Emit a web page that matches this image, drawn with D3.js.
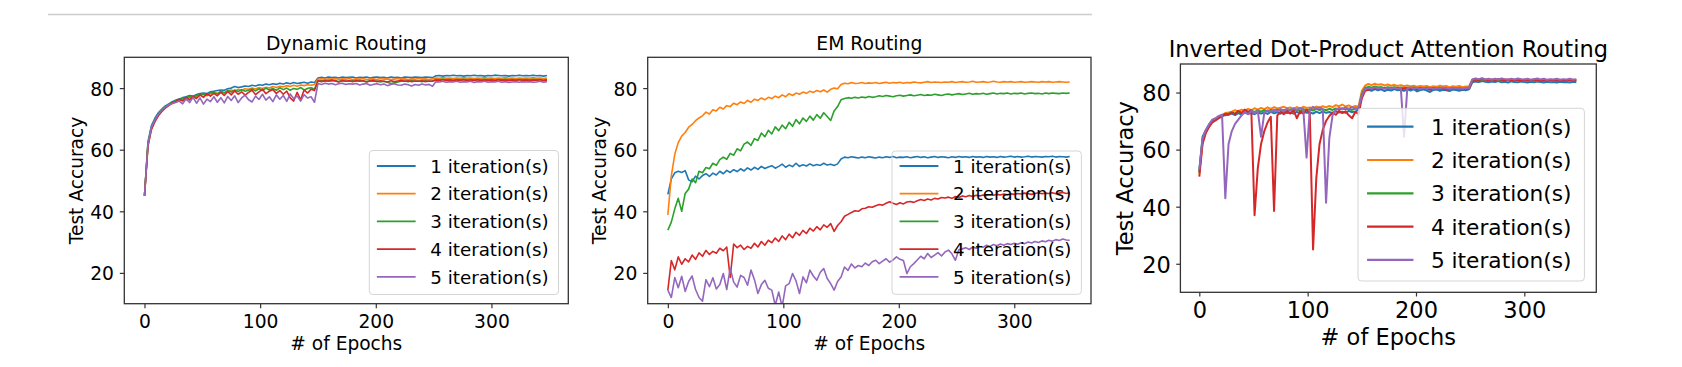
<!DOCTYPE html>
<meta charset="utf-8">
<script src="https://cdn.jsdelivr.net/npm/d3@7"></script>
<style>
  body { margin: 0; background: #fff; }
  text { font-family: "DejaVu Sans", sans-serif; fill: #000; }
</style>
<div id="chart"></div>
<script>
// epochs are read every 3rd epoch (0, 3, ... 348)
var epochs = d3.range(0, 349, 3);
var xTicks = [0, 100, 200, 300];
var yTicks = [20, 40, 60, 80];
var labels = ["1 iteration(s)", "2 iteration(s)", "3 iteration(s)", "4 iteration(s)", "5 iteration(s)"];
var colors = ["#1f77b4", "#ff7f0e", "#2ca02c", "#d62728", "#9467bd"];

// ---- Dynamic Routing
var dyn1 = [45, 62.5, 67.8, 70.2, 72.0, 73.2, 74.2, 74.9, 75.6, 76.1,
  76.5, 76.9, 77.2, 77.6, 77.4, 77.9, 78.2, 78.4, 78.2, 78.8,
  79.0, 79.2, 79.4, 79.3, 79.8, 80.0, 80.5, 80.2, 80.4, 80.7,
  80.5, 80.9, 80.7, 81.1, 80.9, 81.3, 81.1, 81.4, 81.2, 81.6,
  81.3, 81.7, 81.4, 81.8, 81.5, 81.7, 81.9, 81.6, 82.0, 81.8,
  83.3, 83.5, 83.3, 83.6, 83.4, 83.5, 83.3, 83.6, 83.4, 83.5,
  83.6, 83.3, 83.5, 83.4, 83.6, 83.3, 83.5, 83.6, 83.4, 83.5,
  83.3, 83.6, 83.4, 83.5, 83.3, 83.6, 83.5, 83.4, 83.6, 83.5,
  83.4, 83.6, 83.5, 83.4, 84.0, 84.1, 83.9, 84.1, 84.0, 84.2,
  84.0, 84.1, 83.9, 84.1, 84.0, 84.2, 84.0, 84.1, 83.9, 84.1,
  84.0, 84.2, 84.1, 84.0, 84.1, 83.9, 84.1, 84.0, 84.2, 84.0,
  84.1, 84.0, 84.2, 84.0, 84.1, 83.9, 84.1];
var dyn2 = [45, 61.5, 67.0, 69.5, 71.2, 72.6, 73.6, 74.3, 75.0, 75.6,
  76.0, 76.4, 76.2, 77.0, 76.8, 77.3, 77.6, 77.9, 77.5, 78.2,
  78.5, 78.3, 78.9, 78.6, 79.1, 79.4, 79.0, 79.6, 79.3, 79.8,
  79.6, 80.0, 79.7, 80.2, 79.9, 80.3, 80.0, 80.5, 80.2, 80.6,
  80.4, 80.8, 80.5, 80.9, 80.6, 81.0, 80.8, 81.1, 80.9, 81.2,
  82.9, 83.1, 82.8, 83.0, 82.9, 83.1, 82.8, 83.0, 82.9, 83.1,
  82.8, 83.0, 82.9, 83.1, 82.8, 82.9, 83.0, 82.8, 83.1, 82.9,
  83.0, 82.8, 82.9, 83.1, 82.9, 83.0, 82.8, 83.0, 82.9, 83.1,
  82.9, 83.0, 82.8, 83.0, 83.3, 83.2, 83.4, 83.2, 83.3, 83.1,
  83.3, 83.2, 83.4, 83.2, 83.3, 83.1, 83.3, 83.2, 83.4, 83.2,
  83.3, 83.1, 83.3, 83.2, 83.4, 83.2, 83.3, 83.1, 83.3, 83.2,
  83.3, 83.2, 83.4, 83.2, 83.3, 83.1, 83.3];
var dyn3 = [45, 62.0, 67.3, 69.8, 71.6, 72.9, 73.9, 74.6, 75.4, 75.9,
  76.2, 76.6, 76.9, 77.3, 77.0, 77.6, 77.9, 78.1, 77.7, 78.4,
  78.6, 78.1, 78.9, 78.4, 79.2, 78.7, 79.4, 78.9, 79.5, 79.0,
  79.3, 79.7, 79.1, 79.8, 79.2, 80.0, 79.4, 79.9, 79.3, 80.1,
  79.5, 80.0, 79.3, 79.9, 79.6, 80.2, 79.4, 79.9, 80.1, 79.7,
  82.3, 82.5, 82.2, 82.4, 82.3, 82.5, 82.1, 82.4, 82.3, 82.2,
  82.4, 82.2, 82.5, 82.3, 82.1, 82.4, 82.2, 82.3, 82.0, 82.2,
  81.9, 81.5, 81.7, 82.0, 82.2, 82.3, 82.1, 82.4, 82.2, 82.3,
  82.1, 82.4, 82.2, 82.3, 82.8, 82.7, 82.9, 82.7, 82.8, 82.6,
  82.8, 82.7, 82.9, 82.7, 82.8, 82.6, 82.8, 82.7, 82.9, 82.7,
  82.8, 82.6, 82.8, 82.7, 82.9, 82.7, 82.8, 82.6, 82.8, 82.7,
  82.8, 82.7, 82.9, 82.7, 82.8, 82.6, 82.8];
var dyn4 = [45, 61.0, 66.5, 69.0, 71.0, 72.4, 73.5, 74.4, 75.2, 75.5,
  76.4, 75.8, 77.0, 76.2, 77.3, 76.6, 77.8, 77.0, 78.2, 77.4,
  78.3, 77.5, 78.6, 77.6, 78.9, 77.8, 79.1, 78.0, 78.8, 77.7,
  78.6, 79.3, 77.9, 78.8, 79.6, 78.2, 79.0, 79.5, 78.3, 79.2,
  78.0, 79.0, 76.8, 75.8, 78.6, 76.2, 79.4, 78.4, 79.6, 79.2,
  82.4, 82.1, 82.5, 82.2, 82.6, 82.3, 82.0, 82.5, 82.2, 82.4,
  82.1, 82.5, 82.2, 82.4, 82.0, 82.3, 82.5, 82.1, 82.4, 82.2,
  82.0, 82.4, 82.1, 82.3, 82.5, 82.2, 82.4, 82.1, 82.3, 82.2,
  82.4, 82.1, 82.3, 82.2, 82.6, 82.5, 82.7, 82.5, 82.6, 82.4,
  82.6, 82.5, 82.7, 82.4, 82.6, 82.5, 82.7, 82.4, 82.6, 82.5,
  82.6, 82.4, 82.7, 82.5, 82.6, 82.4, 82.6, 82.5, 82.7, 82.5,
  82.6, 82.4, 82.6, 82.5, 82.7, 82.4, 82.6];
var dyn5 = [45, 61.5, 67.2, 69.6, 71.5, 72.8, 73.8, 74.6, 75.0, 75.3,
  75.8, 74.9, 76.5, 75.3, 77.0, 75.1, 76.8, 74.8, 76.4, 75.6,
  77.2, 75.4, 76.9, 75.2, 77.3, 76.0, 77.5, 75.3, 76.8, 77.7,
  76.2, 75.5, 77.4, 76.3, 78.0, 76.1, 77.2, 75.6, 77.8, 76.4,
  77.6, 75.7, 78.1, 76.6, 77.4, 75.8, 77.9, 76.8, 77.2, 75.4,
  81.5, 81.2, 81.6, 81.3, 81.5, 81.1, 81.4, 81.6, 81.2, 81.4,
  81.3, 81.5, 81.0, 81.3, 81.5, 80.9, 81.2, 81.4, 81.1, 81.3,
  80.8, 81.2, 81.4, 81.0, 80.9, 81.3, 81.1, 80.7, 81.2, 80.9,
  81.3, 81.0, 81.2, 80.6, 82.1, 82.0, 82.2, 81.9, 82.1, 82.0,
  82.2, 81.9, 82.1, 82.0, 82.2, 81.8, 82.1, 82.0, 82.2, 81.9,
  82.1, 82.0, 82.2, 81.9, 82.1, 81.8, 82.0, 82.1, 81.9, 82.1,
  82.0, 82.1, 81.9, 82.0, 82.2, 81.9, 82.1];

// ---- EM Routing
var em1 = [45.5, 50.5, 52.5, 53.0, 52.6, 53.2, 50.2, 49.6, 51.4, 50.5,
  51.6, 52.2, 51.3, 52.4, 51.8, 53.0, 52.2, 53.3, 52.6, 53.5,
  52.9, 53.8, 53.1, 54.1, 53.4, 54.3, 53.6, 54.6, 53.9, 54.4,
  54.8, 54.0, 54.6, 55.3, 54.3, 55.0, 54.5, 55.6, 54.6, 55.1,
  54.7, 55.4, 54.8, 55.2, 54.9, 55.6, 55.0, 55.3, 54.9, 55.4,
  57.0, 57.6, 57.4, 57.7, 57.5, 57.3, 57.6, 57.4, 57.7, 57.5,
  57.3, 57.6, 57.4, 57.7, 57.5, 57.8, 57.4, 57.6, 57.5, 57.7,
  57.4, 57.6, 57.8, 57.5, 57.7, 57.4, 57.6, 57.8, 57.5, 57.7,
  57.6, 57.4, 57.7, 57.5, 57.8, 57.6, 57.7, 57.5, 57.8, 57.6,
  57.7, 57.5, 57.8, 57.6, 57.7, 57.5, 57.8, 57.6, 57.7, 57.9,
  57.6, 57.8, 57.6, 57.7, 57.9, 57.6, 57.8, 57.7, 57.6, 57.8,
  57.7, 57.9, 57.6, 57.8, 57.7, 57.6, 57.8];
var em2 = [38.8, 51.5, 58.5, 62.3, 64.4, 65.6, 67.3, 68.2, 69.4, 70.3,
  71.0, 72.2, 71.6, 73.0, 72.6, 73.8, 73.2, 74.3, 74.0, 75.1,
  74.6, 75.5, 75.0, 76.0, 75.4, 76.4, 76.0, 76.8, 76.2, 77.0,
  76.6, 77.4, 76.9, 77.8, 77.2, 78.2, 77.6, 78.4, 78.0, 78.7,
  78.3, 79.0, 78.6, 79.2, 78.8, 79.4, 78.7, 79.6, 80.0, 79.8,
  81.2, 81.6, 81.4, 81.8, 81.5, 81.6, 81.8, 81.5, 81.7, 81.6,
  81.8, 81.5, 81.7, 81.9, 81.6, 81.8, 81.7, 81.9, 81.6, 81.8,
  81.7, 82.0, 81.8, 81.7, 81.9, 82.1, 81.8, 82.0, 81.9, 81.8,
  82.0, 81.9, 82.1, 81.8, 82.0, 82.1, 81.9, 82.0, 82.2, 81.9,
  82.0, 82.1, 81.9, 82.0, 82.2, 82.0, 81.9, 82.1, 82.0, 82.1,
  81.9, 82.0, 82.1, 81.9, 82.0, 82.1, 82.0, 81.9, 82.1, 82.0,
  82.1, 81.9, 82.0, 82.1, 82.0, 81.9, 82.0];
var em3 = [33.9, 36.5, 40.8, 44.2, 40.0, 45.8, 47.2, 50.5, 49.3, 53.0,
  52.5, 54.2, 53.8, 55.6, 54.9, 56.8, 57.6, 56.9, 58.8, 58.2,
  60.3, 59.6, 61.8, 62.5, 61.4, 63.6, 63.0, 65.4, 64.2, 66.3,
  65.1, 67.4, 66.2, 68.0, 66.8, 68.9, 67.6, 69.8, 68.4, 70.3,
  69.2, 70.9, 69.6, 71.4, 70.2, 72.0, 70.8, 69.5, 72.6, 74.0,
  76.2, 76.6, 76.9, 76.7, 77.0, 76.8, 77.1, 76.9, 77.3, 77.0,
  77.2, 77.5, 77.3, 77.6, 77.4, 77.2, 77.5, 77.7, 77.4, 77.6,
  77.8, 77.5, 77.7, 77.9, 77.6, 77.8, 77.7, 78.0, 77.8, 77.6,
  77.9, 78.1, 77.8, 78.0, 78.2, 77.9, 78.1, 78.3, 78.0, 78.2,
  78.1, 78.3, 78.0, 78.2, 78.4, 78.1, 78.3, 78.2, 78.4, 78.1,
  78.3, 78.2, 78.4, 78.1, 78.3, 78.4, 78.2, 78.3, 78.1, 78.4,
  78.2, 78.4, 78.3, 78.2, 78.4, 78.3, 78.4];
var em4 = [14.4, 24.0, 21.0, 25.2, 22.8, 24.6, 23.6, 25.8, 24.4, 26.5,
  25.4, 27.3, 26.0, 27.0, 26.4, 28.0, 27.2, 28.4, 18.5, 29.4,
  28.2, 29.0, 27.6, 28.6, 28.0, 29.6, 28.4, 30.2, 29.0, 30.6,
  29.8, 31.3, 30.2, 32.0, 30.8, 32.6, 31.4, 33.2, 32.2, 33.8,
  32.8, 34.5, 33.6, 35.0, 34.0, 35.6, 34.8, 36.0, 33.5, 35.4,
  36.6, 38.4, 39.0, 39.6, 40.2, 40.0, 40.8, 41.0, 41.5, 41.3,
  41.8, 42.2, 42.0, 42.6, 43.1, 42.6, 42.2, 42.8, 42.4, 43.0,
  43.2, 42.9, 43.4, 43.8, 43.5, 44.0, 43.7, 44.2, 44.0, 44.5,
  44.3, 44.6, 44.2, 44.8, 44.5, 45.0, 44.7, 45.1, 44.8, 45.2,
  45.0, 45.3, 45.1, 45.4, 45.2, 45.5, 45.3, 45.6, 45.4, 45.7,
  45.5, 45.8, 45.6, 45.9, 45.7, 45.5, 45.8, 46.0, 45.7, 45.9,
  45.8, 46.0, 45.7, 45.9, 46.1, 45.8, 46.0];
var em5 = [14.4, 12.0, 18.5, 15.2, 18.9, 14.0, 17.2, 19.0, 14.6, 12.0,
  10.8, 17.8, 15.5, 18.4, 14.8, 16.2, 19.8, 14.6, 21.5, 17.0,
  15.4, 19.2, 18.5, 16.0, 20.9, 17.8, 13.3, 16.2, 17.6, 15.0,
  14.4, 9.5, 13.8, 9.0, 15.8, 16.5, 19.8, 17.4, 13.3, 18.7,
  16.8, 20.9, 19.0, 17.6, 20.2, 21.4, 18.2, 16.5, 14.4, 17.2,
  18.7, 21.9, 20.8, 22.9, 21.6, 22.4, 22.0, 23.2, 22.4, 23.6,
  24.1, 23.0, 23.8, 24.6, 23.5, 24.2, 25.2, 24.4, 24.0, 19.8,
  22.0, 23.0, 24.2, 25.4, 24.6, 26.3, 25.0, 25.8, 26.6, 25.5,
  26.8, 27.4, 26.2, 24.1, 27.5, 27.8, 28.2, 27.6, 28.4, 28.0,
  28.6, 28.3, 29.0, 28.6, 29.2, 28.8, 29.4, 29.0, 29.5, 29.2,
  29.6, 29.3, 29.8, 29.5, 30.0, 29.7, 30.2, 29.9, 30.4, 30.1,
  30.6, 30.3, 30.8, 30.5, 31.0, 30.7, 30.6];

// ---- Inverted Dot-Product Attention Routing
var inv1 = [52.5, 64.5, 66.8, 68.8, 70.2, 70.8, 71.4, 71.9, 72.0, 72.3,
  72.6, 72.1, 72.8, 72.3, 73.0, 72.5, 72.9, 72.4, 73.1, 72.6,
  73.0, 72.5, 73.2, 72.7, 73.1, 72.6, 73.3, 72.8, 73.0, 72.6,
  73.2, 72.7, 73.4, 72.9, 73.1, 72.6, 73.3, 72.8, 73.4, 72.9,
  73.2, 72.8, 73.5, 73.0, 73.3, 72.9, 73.6, 73.1, 73.4, 73.8,
  78.5, 80.8, 81.0, 80.6, 81.2, 80.8, 81.1, 80.5, 81.0, 80.7,
  81.2, 80.8, 81.0, 80.6, 81.1, 80.7, 81.2, 80.4, 80.9, 81.1,
  80.7, 80.2, 80.9, 81.1, 80.6, 81.0, 80.8, 80.5, 81.1, 80.9,
  80.6, 81.0, 80.8, 81.1, 83.6, 83.9, 83.7, 84.0, 83.8, 83.6,
  83.9, 83.7, 84.0, 83.6, 83.8, 83.5, 83.9, 83.7, 83.6, 83.9,
  83.7, 83.5, 83.8, 83.6, 83.9, 83.7, 83.5, 83.8, 83.6, 83.7,
  83.5, 83.8, 83.6, 83.7, 83.5, 83.8, 83.6];
var inv2 = [51.8, 62.5, 66.0, 68.0, 69.8, 70.6, 71.5, 72.2, 72.8, 73.0,
  73.3, 73.8, 73.4, 74.0, 73.6, 74.3, 73.8, 74.5, 74.0, 74.6,
  74.2, 74.8, 74.3, 74.9, 74.4, 74.7, 75.0, 74.5, 74.8, 74.3,
  74.9, 74.4, 75.0, 74.6, 74.8, 74.3, 75.1, 74.7, 75.2, 74.8,
  75.3, 74.9, 75.6, 75.2, 75.8, 75.1, 75.5, 74.9, 75.3, 75.0,
  80.5, 82.4, 83.0, 82.6, 83.1, 82.7, 82.9, 82.5, 82.8, 82.4,
  82.7, 82.3, 82.6, 82.2, 82.5, 82.1, 82.4, 82.0, 82.3, 82.1,
  82.3, 81.9, 82.2, 82.0, 82.4, 82.1, 82.3, 81.8, 82.2, 82.0,
  82.3, 81.9, 82.1, 82.2, 84.5, 84.8, 84.6, 84.9, 84.5, 84.7,
  84.4, 84.7, 84.5, 84.8, 84.6, 84.4, 84.7, 84.5, 84.3, 84.6,
  84.4, 84.6, 84.3, 84.5, 84.2, 84.5, 84.3, 84.4, 84.2, 84.5,
  84.3, 84.5, 84.2, 84.4, 84.3, 84.5, 84.4];
var inv3 = [52.0, 63.5, 66.4, 68.4, 70.0, 70.7, 71.3, 72.0, 72.4, 72.6,
  73.0, 72.6, 73.3, 72.9, 73.5, 73.0, 73.6, 73.2, 73.7, 73.3,
  73.8, 73.4, 73.9, 73.5, 74.0, 73.6, 73.9, 73.5, 74.1, 73.7,
  74.0, 73.6, 74.2, 73.8, 74.1, 73.7, 74.3, 73.9, 74.2, 73.8,
  74.3, 73.9, 74.4, 74.0, 74.5, 74.1, 74.3, 73.9, 74.4, 74.2,
  79.5, 81.6, 82.0, 81.7, 82.1, 81.8, 81.9, 81.5, 81.9, 81.6,
  81.9, 81.5, 81.8, 81.4, 81.7, 81.5, 81.8, 81.4, 81.6, 81.5,
  81.7, 81.3, 81.6, 81.4, 81.7, 81.3, 81.6, 81.2, 81.5, 81.4,
  81.6, 81.3, 81.5, 81.6, 84.2, 84.5, 84.3, 84.6, 84.2, 84.4,
  84.2, 84.5, 84.3, 84.5, 84.2, 84.4, 84.1, 84.3, 84.2, 84.4,
  84.2, 84.3, 84.1, 84.4, 84.2, 84.3, 84.0, 84.2, 84.1, 84.3,
  84.1, 84.3, 84.2, 84.0, 84.3, 84.1, 84.2];
var inv4 = [50.5, 62.0, 65.8, 68.0, 69.5, 70.2, 71.0, 71.6, 72.6, 72.2,
  73.0, 72.4, 73.6, 72.8, 74.0, 73.2, 73.8, 37.0, 53.5, 62.0,
  66.5, 69.5, 71.5, 38.5, 72.0, 73.2, 72.4, 73.5, 72.6, 73.8,
  71.0, 73.4, 72.6, 73.9, 72.5, 25.0, 50.0, 62.0, 67.0, 70.0,
  71.8, 73.0, 72.2, 73.6, 72.8, 73.4, 72.0, 71.0, 73.2, 72.5,
  78.0, 80.6, 81.0, 81.4, 81.2, 81.6, 81.3, 81.7, 81.2, 81.5,
  81.3, 81.6, 81.0, 81.4, 81.7, 81.2, 81.5, 81.1, 81.6, 81.3,
  81.5, 81.0, 81.4, 81.6, 81.2, 81.5, 81.0, 81.3, 81.6, 81.2,
  81.4, 81.1, 81.5, 81.3, 84.3, 84.6, 84.4, 84.7, 84.5, 84.3,
  84.6, 84.4, 84.7, 84.5, 84.3, 84.6, 84.4, 84.2, 84.5, 84.3,
  84.5, 84.2, 84.4, 84.6, 84.3, 84.1, 84.4, 84.2, 84.5, 84.3,
  84.2, 84.4, 84.1, 84.3, 84.5, 84.2, 84.3];
var inv5 = [53.0, 63.8, 66.8, 68.8, 70.5, 71.0, 71.8, 72.2, 43.0, 62.0,
  66.5, 69.0, 70.5, 72.0, 73.2, 72.4, 73.5, 72.8, 73.6, 64.5,
  73.0, 73.8, 73.2, 74.0, 73.4, 74.2, 73.5, 74.3, 73.7, 74.5,
  73.9, 74.6, 74.0, 57.2, 74.2, 75.0, 74.3, 74.8, 74.1, 41.4,
  64.0, 72.0, 74.0, 74.6, 74.2, 74.8, 74.3, 74.9, 74.4, 74.7,
  79.0, 81.2, 81.6, 81.4, 81.8, 81.5, 81.7, 81.3, 81.6, 81.4,
  81.7, 81.3, 81.6, 64.5, 81.5, 81.8, 81.4, 81.7, 81.3, 81.6,
  81.4, 81.7, 81.3, 81.6, 81.4, 81.8, 81.5, 81.3, 81.7, 81.4,
  81.6, 81.3, 81.7, 81.5, 84.6, 84.9, 84.7, 85.0, 84.6, 84.8,
  84.5, 84.8, 84.6, 84.9, 84.7, 84.5, 84.8, 84.6, 84.9, 84.7,
  84.6, 84.8, 84.5, 84.7, 84.9, 84.6, 84.8, 84.5, 84.7, 84.6,
  84.8, 84.5, 84.7, 84.6, 84.8, 84.5, 84.7];

// layout of the three panels (pixels)
var panels = [
  { title: "Dynamic Routing", series: [dyn1, dyn2, dyn3, dyn4, dyn5],
    left: 124.3, right: 568.3, top: 57.3, bottom: 303.7,
    tickFs: 18.7, labelFs: 18.6, titleFs: 18.8, titleY: 50, xLabelY: 350, yLabelX: 82.5,
    xTickBase: 24, yTickGap: 10.3, tickLen: 4.5, lw: 1.6,
    leg: { x: 369.3, y: 150.5, w: 189.2, h: 144, row0: 166, dy: 27.7, fs: 18.3, op: 0.8 } },
  { title: "EM Routing", series: [em1, em2, em3, em4, em5],
    left: 647.7, right: 1091, top: 57.3, bottom: 303.7,
    tickFs: 18.7, labelFs: 18.6, titleFs: 18.8, titleY: 50, xLabelY: 350, yLabelX: 605.5,
    xTickBase: 24, yTickGap: 10.3, tickLen: 4.5, lw: 1.6,
    leg: { x: 892, y: 151, w: 189.4, h: 143.3, row0: 166, dy: 27.7, fs: 18.3, op: 0 } },
  { title: "Inverted Dot-Product Attention Routing", series: [inv1, inv2, inv3, inv4, inv5],
    left: 1180.4, right: 1596.3, top: 64, bottom: 292.3,
    tickFs: 22.5, labelFs: 22.5, titleFs: 22.5, titleY: 56.7, xLabelY: 345, yLabelX: 1133.1,
    xTickBase: 25.9, yTickGap: 9.6, tickLen: 4.2, lw: 2,
    leg: { x: 1358, y: 108.3, w: 226.4, h: 172.7, row0: 126.7, dy: 33.3, fs: 21.7, op: 0.8 } }
];

var svg = d3.select("#chart").append("svg")
  .attr("width", 1682)
  .attr("height", 367);

// thin grey rule across the top
svg.append("line")
  .attr("x1", 48).attr("x2", 1092)
  .attr("y1", 14.5).attr("y2", 14.5)
  .attr("stroke", "#cccccc")
  .attr("stroke-width", 1.5);

panels.forEach(function (p, pi) {
  var x = d3.scaleLinear().domain([-17.45, 366.45]).range([p.left, p.right]);
  var y = d3.scaleLinear().domain([10, 90]).range([p.bottom, p.top]);

  svg.append("clipPath").attr("id", "clip" + pi)
    .append("rect")
    .attr("x", p.left).attr("y", p.top)
    .attr("width", p.right - p.left).attr("height", p.bottom - p.top);

  var line = d3.line()
    .x(function (d, i) { return x(epochs[i]); })
    .y(function (d) { return y(d); });

  svg.append("g")
    .attr("clip-path", "url(#clip" + pi + ")")
    .selectAll("path")
    .data(p.series)
    .enter()
    .append("path")
    .attr("d", line)
    .attr("fill", "none")
    .attr("stroke", function (d, i) { return colors[i]; })
    .attr("stroke-width", p.lw)
    .attr("stroke-linejoin", "round");

  // axes
  var gx = svg.append("g")
    .attr("transform", "translate(0," + p.bottom + ")")
    .call(d3.axisBottom(x).tickValues(xTicks).tickSize(p.tickLen).tickFormat(d3.format("d")));
  gx.select(".domain").remove();
  gx.selectAll("line").attr("stroke", "#333").attr("stroke-width", 1.2);
  gx.selectAll("text")
    .attr("y", p.xTickBase).attr("dy", 0)
    .attr("font-size", p.tickFs)
    .attr("font-family", "DejaVu Sans")
    .attr("fill", "#000");

  var gy = svg.append("g")
    .attr("transform", "translate(" + p.left + ",0)")
    .call(d3.axisLeft(y).tickValues(yTicks).tickSize(p.tickLen));
  gy.select(".domain").remove();
  gy.selectAll("line").attr("stroke", "#333").attr("stroke-width", 1.2);
  gy.selectAll("text")
    .attr("x", -p.yTickGap).attr("dy", "0.37em")
    .attr("font-size", p.tickFs)
    .attr("font-family", "DejaVu Sans")
    .attr("fill", "#000");

  // frame
  svg.append("rect")
    .attr("x", p.left).attr("y", p.top)
    .attr("width", p.right - p.left).attr("height", p.bottom - p.top)
    .attr("fill", "none")
    .attr("stroke", "#333")
    .attr("stroke-width", 1.3);

  // title and axis labels
  svg.append("text")
    .attr("x", (p.left + p.right) / 2).attr("y", p.titleY)
    .attr("text-anchor", "middle")
    .attr("font-size", p.titleFs)
    .text(p.title);
  svg.append("text")
    .attr("x", (p.left + p.right) / 2).attr("y", p.xLabelY)
    .attr("text-anchor", "middle")
    .attr("font-size", p.labelFs)
    .text("# of Epochs");
  svg.append("text")
    .attr("transform", "translate(" + p.yLabelX + "," + ((p.top + p.bottom) / 2) + ")rotate(-90)")
    .attr("text-anchor", "middle")
    .attr("font-size", p.labelFs)
    .text("Test Accuracy");

  // legend
  var L = p.leg;
  var lg = svg.append("g");
  lg.append("rect")
    .attr("x", L.x).attr("y", L.y)
    .attr("width", L.w).attr("height", L.h)
    .attr("rx", 3.5)
    .attr("fill", "#fff").attr("fill-opacity", L.op)
    .attr("stroke", "#d5d5d5").attr("stroke-width", 1);
  var rows = lg.selectAll("g.row")
    .data(labels)
    .enter()
    .append("g")
    .attr("class", "row")
    .attr("transform", function (d, i) { return "translate(0," + (L.row0 + i * L.dy) + ")"; });
  rows.append("line")
    .attr("x1", L.x + L.w * 0.04).attr("x2", L.x + L.w * 0.245)
    .attr("stroke", function (d, i) { return colors[i]; })
    .attr("stroke-width", p.lw + 0.2);
  rows.append("text")
    .attr("x", L.x + L.w * 0.322)
    .attr("dy", "0.37em")
    .attr("font-size", L.fs)
    .text(function (d) { return d; });
});
</script>
